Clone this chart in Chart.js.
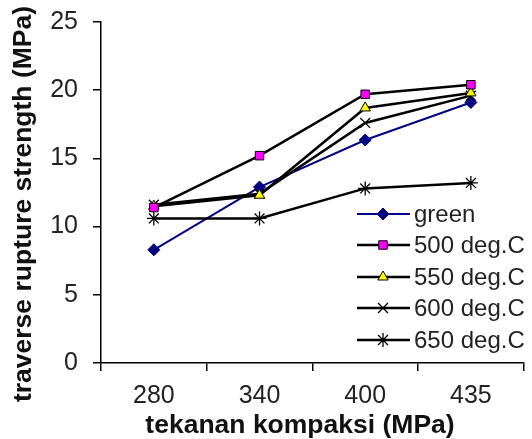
<!DOCTYPE html>
<html>
<head>
<meta charset="utf-8">
<script src="https://cdn.jsdelivr.net/npm/chart.js@4"></script>
<style>
  html, body { margin: 0; padding: 0; background: #fff; }
  #wrap { width: 532px; height: 439px; }
</style>
</head>
<body>
<div id="wrap"><canvas id="chart" width="532" height="439"></canvas></div>
<script>
'use strict';

const pressures = ['280', '340', '400', '435'];
const seriesNames = ['green', '500 deg.C', '550 deg.C', '600 deg.C', '650 deg.C'];
const green = [8.3, 12.9, 16.35, 19.1];
const deg500 = [11.4, 15.2, 19.7, 20.4];
const deg550 = [11.5, 12.3, 18.7, 19.8];
const deg600 = [11.6, 12.4, 17.6, 19.6];
const deg650 = [10.6, 10.6, 12.8, 13.2];
const yTicks = [0, 5, 10, 15, 20, 25];
const xTitle = 'tekanan kompaksi (MPa)';
const yTitle = 'traverse rupture strength (MPa)';

const fontFamily = '"Liberation Sans", Arial, sans-serif';

const styles = [
    { line: '#000080', fill: '#000080', stroke: '#000080', point: 'rectRot', radius: 6, borderWidth: 1 },
    { line: '#000000', fill: '#ff00ff', stroke: '#000000', point: 'rect', radius: 6, borderWidth: 1 },
    { line: '#000000', fill: '#ffff00', stroke: '#000000', point: 'triangle', radius: 6, borderWidth: 1 },
    { line: '#000000', fill: '#000000', stroke: '#000000', point: 'crossRot', radius: 7, borderWidth: 1.3 },
    { line: '#000000', fill: '#000000', stroke: '#000000', point: 'star', radius: 7, borderWidth: 1.3 },
];

const allValues = [green, deg500, deg550, deg600, deg650];

const datasets = allValues.map((values, i) => ({
    label: seriesNames[i],
    data: values,
    borderColor: styles[i].line,
    borderWidth: i === 0 ? 2 : 2.5,
    pointStyle: styles[i].point,
    pointRadius: styles[i].radius,
    pointBackgroundColor: styles[i].fill,
    pointBorderColor: styles[i].stroke,
    pointBorderWidth: styles[i].borderWidth,
    tension: 0,
}));
// draw the black series above the blue one, like the reference
datasets.forEach((d, i) => { d.order = i === 0 ? 5 : 0; });

// legend sits inside the plot (bottom right) and axis titles are drawn by hand
const overlayPlugin = {
    id: 'overlay',
    afterDraw(chart) {
        const ctx = chart.ctx;
        const rows = [214, 245, 277, 308, 340];
        ctx.save();
        seriesNames.forEach((name, i) => {
            const y = rows[i];
            ctx.strokeStyle = styles[i].line;
            ctx.lineWidth = i === 0 ? 2 : 2.5;
            ctx.beginPath();
            ctx.moveTo(357, y);
            ctx.lineTo(410, y);
            ctx.stroke();
            ctx.fillStyle = styles[i].fill;
            ctx.strokeStyle = styles[i].stroke;
            ctx.lineWidth = styles[i].borderWidth;
            Chart.helpers.drawPoint(ctx, {
                pointStyle: styles[i].point,
                radius: styles[i].radius,
                rotation: 0,
                borderWidth: styles[i].borderWidth,
            }, 383, y);
            ctx.fillStyle = '#222';
            ctx.font = '24px ' + fontFamily;
            ctx.textBaseline = 'middle';
            ctx.textAlign = 'left';
            ctx.fillText(name, 414, y + 1);
        });

        ctx.fillStyle = '#111';
        ctx.font = 'bold 26.5px ' + fontFamily;
        ctx.textAlign = 'center';
        ctx.textBaseline = 'middle';
        ctx.fillText(xTitle, 300, 426);

        ctx.translate(24, 204);
        ctx.rotate(-Math.PI / 2);
        ctx.fillText(yTitle, 0, 0);
        ctx.restore();
    },
};

new Chart(document.getElementById('chart'), {
    type: 'line',
    data: { labels: pressures, datasets: datasets },
    plugins: [overlayPlugin],
    options: {
        responsive: false,
        animation: false,
        layout: { padding: { top: 22, right: 5, left: 0, bottom: 0 } },
        scales: {
            x: {
                offset: true,
                border: { color: '#000', width: 1.5 },
                grid: { display: true, drawOnChartArea: false, color: '#000', lineWidth: 1.5, tickLength: 8, offset: true },
                ticks: { color: '#222', font: { family: fontFamily, size: 25 }, padding: 10 },
                afterFit(axis) { axis.height = 76; },
            },
            y: {
                min: 0,
                max: 25,
                afterBuildTicks(axis) { axis.ticks = yTicks.map(v => ({ value: v })); },
                border: { color: '#000', width: 1.5 },
                grid: { display: true, drawOnChartArea: false, color: '#000', lineWidth: 1.5, tickLength: 8 },
                ticks: { color: '#222', font: { family: fontFamily, size: 25, lineHeight: 0.5 }, padding: 15 },
                afterFit(axis) { axis.width = 101; },
            },
        },
        plugins: {
            legend: { display: false },
            tooltip: { enabled: false },
        },
    },
});
</script>
</body>
</html>
